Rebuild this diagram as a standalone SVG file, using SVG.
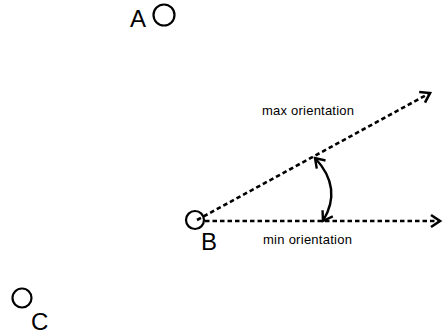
<svg xmlns="http://www.w3.org/2000/svg" width="443" height="334" viewBox="0 0 443 334">
<defs>
<style>
.node circle{fill:none;stroke:#000;stroke-width:2.2}
.lbl{font-family:"Liberation Sans",Arial,sans-serif;fill:#000}
.big{font-size:24px}
.small{font-size:13px}
.dash{fill:none;stroke:#000;stroke-width:2.6;stroke-dasharray:4.5 3}
.arc{fill:none;stroke:#000;stroke-width:2.4}
</style>
<marker id="head" markerUnits="userSpaceOnUse" markerWidth="20" markerHeight="20" refX="0" refY="0" viewBox="-12 -10 16 20" orient="auto">
<path d="M-9,-6 L0,0 L-9,6" fill="none" stroke="#000" stroke-width="2.6" stroke-linejoin="miter"/>
</marker>
<marker id="headStart" markerUnits="userSpaceOnUse" markerWidth="20" markerHeight="20" refX="0" refY="0" viewBox="-12 -10 16 20" orient="auto-start-reverse">
<path d="M-9,-6 L0,0 L-9,6" fill="none" stroke="#000" stroke-width="2.4"/>
</marker>
</defs>
<g id="A" class="node">
<circle cx="164" cy="15" r="10.5"/>
<text class="lbl big" x="130" y="27">A</text>
</g>
<g id="B" class="node">
<circle cx="195" cy="220" r="9"/>
<text class="lbl big" x="201" y="250">B</text>
</g>
<g id="C" class="node">
<circle cx="22" cy="298" r="9.5"/>
<text class="lbl big" x="31" y="330">C</text>
</g>
<g id="connectors">
<path class="dash" d="M197,220 L430,93" marker-end="url(#head)"/>
<path class="dash" d="M205,221 L440,221" marker-end="url(#head)"/>
<path class="arc" d="M315,158 Q343,188 323,221" marker-start="url(#headStart)" marker-end="url(#headStart)"/>
<text class="lbl small" x="262" y="115" textLength="92">max orientation</text>
<text class="lbl small" x="263" y="244" textLength="89">min orientation</text>
</g>
</svg>
